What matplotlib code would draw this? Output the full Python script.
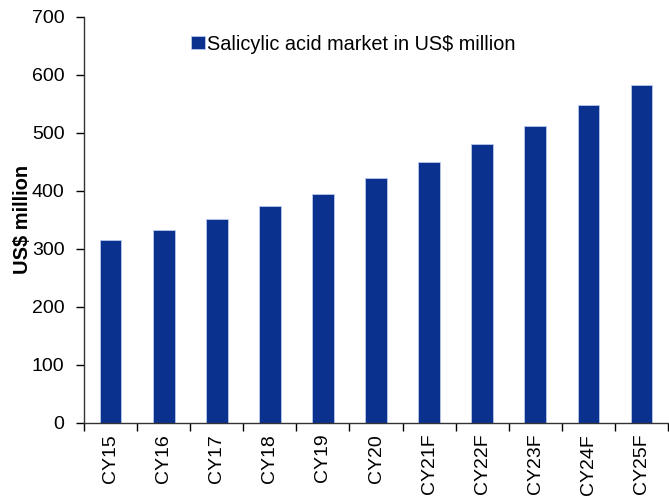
import numpy as np
import matplotlib
matplotlib.use("Agg")
import matplotlib.pyplot as plt

plt.rcParams["font.family"] = ["Liberation Sans", "DejaVu Sans"]

years = ["CY15", "CY16", "CY17", "CY18", "CY19", "CY20",
         "CY21F", "CY22F", "CY23F", "CY24F", "CY25F"]
market = [315, 332, 352, 373, 395, 421, 450, 480, 512, 547, 583]

BAR_COLOR = "#0B318F"

fig = plt.figure(figsize=(6.69, 4.97), dpi=100)
ax = fig.add_axes([0.1256, 0.1495, 0.873, 0.817])

x = np.arange(len(years))
ax.bar(x, market, width=0.41, color=BAR_COLOR, edgecolor="#B8C8EC",
       linewidth=0.6, label="Salicylic acid market in US$ million", zorder=2)

ax.set_xlim(-0.5, len(years) - 0.5)
ax.set_ylim(0, 700)
ax.set_yticks(range(0, 701, 100))
ax.tick_params(axis="y", labelsize=14, length=6, width=1, direction="out", pad=8)

# category labels in the middle, tick marks on the boundaries
ax.set_xticks(x)
ax.set_xticklabels(years, rotation=90, fontsize=14)
ax.tick_params(axis="x", which="major", length=0, pad=8)
ax.set_xticks(np.arange(-0.5, len(years), 1.0), minor=True)
ax.tick_params(axis="x", which="minor", length=6, width=1, direction="out")

for side in ["top", "right"]:
    ax.spines[side].set_visible(False)
for side in ["left", "bottom"]:
    ax.spines[side].set_color("#333333")
    ax.spines[side].set_linewidth(1)

ax.set_ylabel("US$ million", fontsize=14.5, fontweight="bold", labelpad=0)

ax.legend(loc="upper center", bbox_to_anchor=(0.461, 1.0), frameon=False,
          fontsize=14.3, handlelength=0.68, handleheight=0.68, handletextpad=0.12)

fig.savefig("out.png", dpi=100)
